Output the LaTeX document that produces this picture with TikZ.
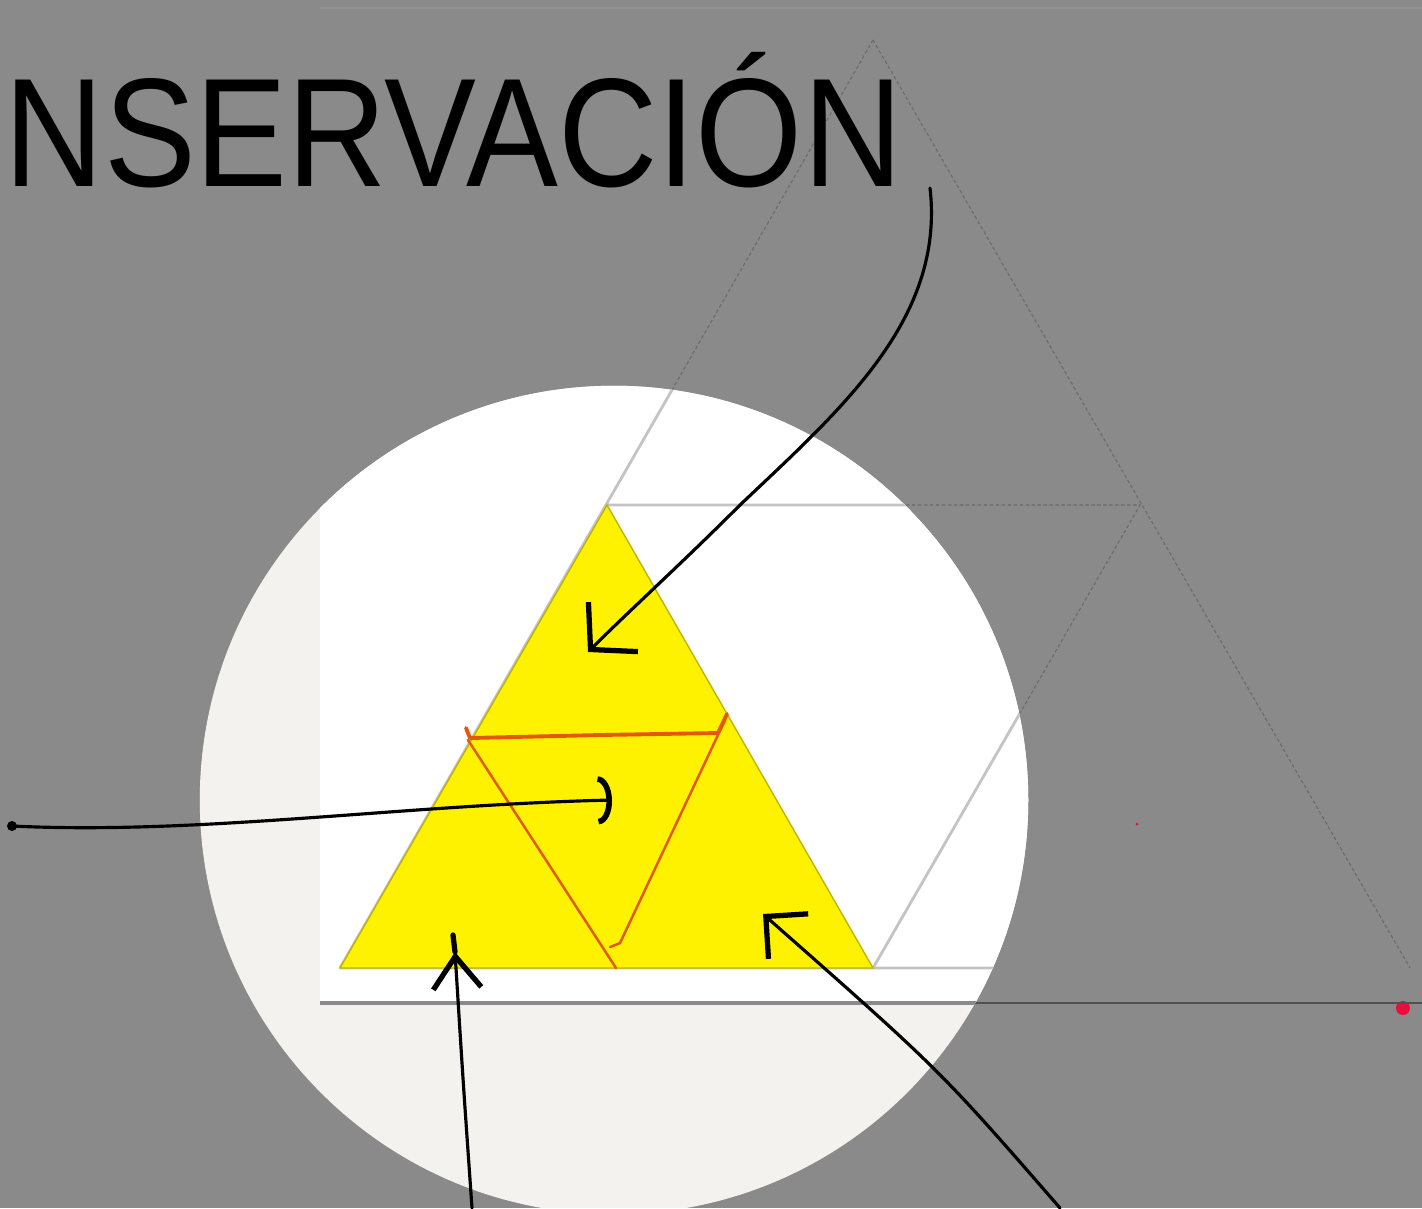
\documentclass[tikz,border=0pt]{standalone}
\usepackage{fontspec}
\setmainfont{Liberation Sans}
\usetikzlibrary{arrows.meta}
\definecolor{fondo}{HTML}{8A8A8A}
\definecolor{hueso}{HTML}{F3F2EF}
\definecolor{amarillo}{HTML}{FFF200}
\definecolor{naranja}{HTML}{E2580C}
\definecolor{guiaclara}{HTML}{C4C4C4}
\definecolor{guiaoscura}{HTML}{6A6A6A}
\definecolor{rojo}{HTML}{E8103A}

\begin{document}
\begin{tikzpicture}[x=0.01cm, y=-0.01cm,
  trazo/.style={black, line width=0.9pt, line cap=round},
  guia/.style={guiaclara, line width=0.8pt},
  guiaf/.style={guiaoscura, line width=0.3pt, dash pattern=on 1pt off 0.7pt}]
  \useasboundingbox (0,0) rectangle (1422,1208);
  \fill[fondo] (0,0) rectangle (1422,1208);
  \draw[fondo!93!white, line width=0.3pt] (320,8) -- (1422,8);

  % vertices of the big triangle
  \coordinate (cima) at (873,40);
  \coordinate (izq) at (340,968);
  \coordinate (der) at (1410,968);
  \coordinate (mi) at (607,505);
  \coordinate (md) at (1140,505);
  \coordinate (mb) at (873,968);

  % guide lines under the shade
  \draw[guiaf] (cima) -- (izq) (cima) -- (der) (mi) -- (md) -- (mb);
  \fill[rojo] (1403,1008) circle (0.07cm);
  \fill[rojo] (1137,824) circle (0.015cm);
  \draw[guiaoscura!75!black, line width=0.6pt] (320,1003) -- (1422,1003);

  % spotlight
  \begin{scope}
    \clip (614,800) circle (4.14cm);
    \fill[hueso] (0,0) rectangle (1422,1208);
    \fill[white] (320,8) rectangle (1422,1003);
    \draw[guia] (cima) -- (izq) (mi) -- (md) -- (mb) (izq) -- (der);
    \draw[fondo, line width=0.9pt] (320,1003) -- (1422,1003);
  \end{scope}

  % yellow triangle and the orange one inside
  \filldraw[fill=amarillo, draw=amarillo!75!black, line width=0.4pt] (izq) -- (mi) -- (mb) -- cycle;
  \draw[naranja, line width=1.1pt, line cap=round, line join=round]
    (466,728) -- (470,738) -- (600,735) -- (718,733) -- (727,714);
  \draw[naranja, line width=0.7pt, line cap=round] (468,740) -- (616,968);
  \draw[naranja, line width=0.7pt, line cap=round, line join=round] (725,720) -- (620,943) -- (610,947);

  % handwritten title
  \node[anchor=base west, inner sep=0pt, xscale=0.89, font=\fontsize{44}{50}\selectfont] (titulo) at (4,186) {NSERVACIÓN};

  % arrows
  \coordinate (inicio1) at (930,188);
  \coordinate (punta1) at (588,652);
  \coordinate (inicio2) at (12,826);
  \coordinate (punta2) at (612,800);
  \coordinate (inicio3) at (472,1208);
  \coordinate (punta3) at (455,952);
  \coordinate (cola3) at (453,935);
  \coordinate (inicio4) at (1060,1208);
  \coordinate (punta4) at (763,914);

  \draw[trazo, -{Straight Barb[length=3.2mm, width=7mm, line width=1.5pt]}]
    (inicio1) .. controls (945,320) and (840,410) .. (740,505) .. controls (680,565) and (630,610) .. (punta1);
  \fill (inicio2) circle (0.05cm);
  \draw[trazo, -{Arc Barb[length=1.4mm, width=4.8mm, line width=1.6pt]}]
    (inicio2) .. controls (200,835) and (400,805) .. (punta2);
  \draw[trazo, -{Straight Barb[length=3.2mm, width=4.8mm, line width=1.5pt]}]
    (inicio3) .. controls (463,1080) .. (punta3);
  \draw[trazo, line width=1.5pt] (punta3) -- (cola3);
  \draw[trazo, -{Straight Barb[length=3mm, width=6mm, line width=1.5pt]}]
    (inicio4) .. controls (940,1070) .. (punta4);
\end{tikzpicture}
\end{document}
